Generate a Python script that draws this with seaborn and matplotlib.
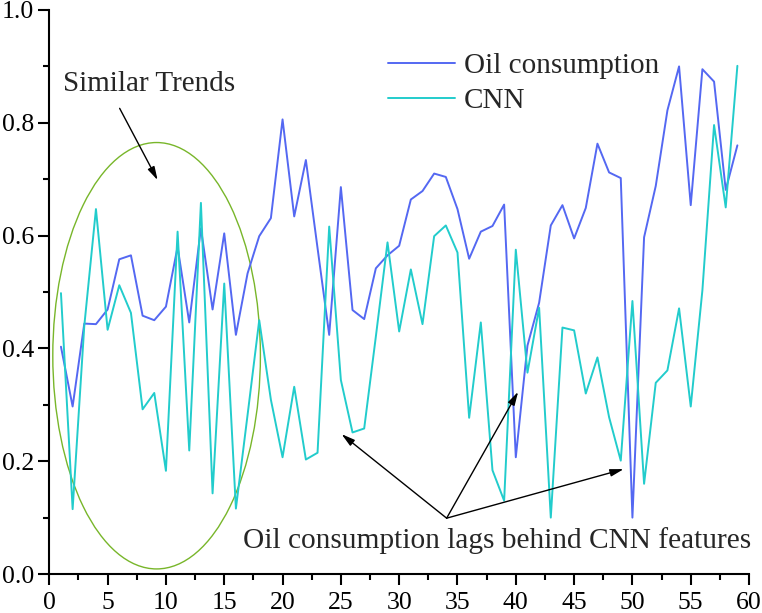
import numpy as np
import pandas as pd
import seaborn as sns
import matplotlib.pyplot as plt
from matplotlib.patches import Ellipse
from matplotlib.ticker import MultipleLocator

############################################################### Data

steps = list(range(1, 60))

oil = [0.403, 0.297, 0.444, 0.443, 0.469, 0.558, 0.565, 0.458, 0.450, 0.474,
       0.580, 0.446, 0.613, 0.469, 0.604, 0.424, 0.533, 0.599, 0.631, 0.806,
       0.634, 0.734, 0.578, 0.424, 0.686, 0.468, 0.452, 0.542, 0.565, 0.582,
       0.664, 0.679, 0.710, 0.704, 0.647, 0.559, 0.607, 0.617, 0.655, 0.207,
       0.405, 0.481, 0.618, 0.654, 0.595, 0.649, 0.763, 0.712, 0.702, 0.100,
       0.597, 0.688, 0.822, 0.900, 0.654, 0.895, 0.873, 0.681, 0.760]

cnn = [0.498, 0.115, 0.440, 0.647, 0.433, 0.512, 0.463, 0.292, 0.321, 0.183,
       0.607, 0.219, 0.658, 0.143, 0.515, 0.116, 0.282, 0.450, 0.309, 0.207,
       0.332, 0.203, 0.215, 0.616, 0.344, 0.251, 0.258, 0.421, 0.588, 0.430,
       0.540, 0.443, 0.599, 0.618, 0.570, 0.277, 0.446, 0.184, 0.130, 0.575,
       0.357, 0.472, 0.100, 0.437, 0.432, 0.320, 0.384, 0.278, 0.201, 0.484,
       0.160, 0.339, 0.361, 0.471, 0.297, 0.503, 0.796, 0.650, 0.901]

series_names = ["Oil consumption", "CNN"]
series_colors = ["#5468F2", "#22CCCC"]

df = pd.DataFrame({"step": steps * 2,
                   "value": oil + cnn,
                   "series": [series_names[0]] * len(oil) + [series_names[1]] * len(cnn)})

############################################################### Plot

sns.set_style("ticks")
plt.rcParams['font.family'] = ['Liberation Serif', 'DejaVu Serif']

fig = plt.figure(figsize=(7.62, 6.13), dpi=100)
ax = fig.add_axes([0.0647, 0.0636, 0.9183, 0.9201])

sns.lineplot(data=df, x="step", y="value", hue="series", palette=series_colors,
             linewidth=1.4, ax=ax)

ax.set_xlim(0, 60)
ax.set_ylim(0, 1.0)
ax.set_xlabel("")
ax.set_ylabel("")
ax.xaxis.set_major_locator(MultipleLocator(5))
ax.xaxis.set_minor_locator(MultipleLocator(2.5))
ax.yaxis.set_major_locator(MultipleLocator(0.2))
ax.yaxis.set_minor_locator(MultipleLocator(0.1))
ax.yaxis.set_major_formatter(plt.FormatStrFormatter('%.1f'))
ax.tick_params(which='major', direction='out', length=8, width=1.5, labelsize=18.5,
               color='black', labelcolor='black')
ax.tick_params(which='minor', direction='out', length=4.3, width=1.5, color='black')
ax.tick_params(axis='x', which='both', bottom=True, pad=5)
ax.tick_params(axis='y', which='both', left=True, pad=3)
sns.despine(ax=ax)
for s in ['left', 'bottom']:
    ax.spines[s].set_linewidth(1.5)
    ax.spines[s].set_color('black')

leg = ax.legend(loc='upper left', bbox_to_anchor=(0.484, 0.925), frameon=False,
                fontsize=21, handlelength=2.3, handletextpad=0.3,
                labelspacing=0.32, borderpad=0, borderaxespad=0)

# similar trends circle
ax.add_patch(Ellipse((9.2, 0.387), 17.8, 0.756, fill=False, edgecolor='#78B62A', lw=1.0))
ax.annotate("", xy=(9.4, 0.694), xytext=(5.92, 0.830),
            arrowprops=dict(arrowstyle='-|>,head_length=0.8,head_width=0.22', color='black', lw=1.0))
ax.text(1.2, 0.869, "Similar Trends", fontsize=21, va='center', ha='left')

# lag annotation
ax.text(16.6, 0.06, "Oil consumption lags behind CNN features", fontsize=21.2, va='center', ha='left')
for tip in [(25.06, 0.248), (40.2, 0.323), (49.25, 0.186)]:
    ax.annotate("", xy=tip, xytext=(34.07, 0.099),
                arrowprops=dict(arrowstyle='-|>,head_length=0.8,head_width=0.22', color='black',
                                lw=1.0, shrinkA=0, shrinkB=0))

plt.savefig("out.png", dpi=100)
